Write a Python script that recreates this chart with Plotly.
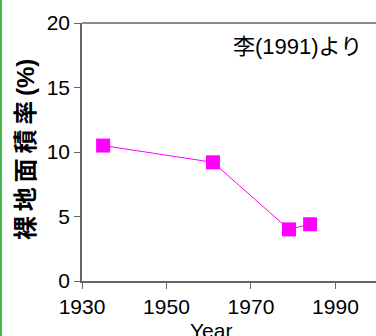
import plotly.graph_objects as go

years = [1935, 1961, 1979, 1984]
bare_rate = [10.5, 9.2, 4.0, 4.4]
x_ticks = [1930, 1950, 1970, 1990]
y_ticks = [0, 5, 10, 15, 20]

W, H = 376, 336
ML, MT, MB, MR = 82, 23, 55, 0
PW, PH = W - ML - MR, H - MT - MB


def px(x):
    return (x - ML) / PW


def py(y):
    return 1 - (y - MT) / PH


fig = go.Figure()
fig.add_trace(go.Scatter(
    x=years, y=bare_rate, mode="lines+markers",
    line=dict(color="#FF00FF", width=1),
    marker=dict(symbol="square", size=14, color="#FF00FF"),
    showlegend=False, cliponaxis=False,
))

axis_font = dict(family="Liberation Sans, Arial, sans-serif", size=21, color="#000000")
fig.update_layout(
    width=W, height=H,
    margin=dict(l=ML, r=MR, t=MT, b=MB),
    paper_bgcolor="white", plot_bgcolor="white",
    xaxis=dict(range=[1930, 1999.6], tickvals=x_ticks, ticks="outside", ticklen=6,
               tickcolor="#666666", showline=True, linecolor="#666666", linewidth=1.5,
               showgrid=False, zeroline=False, tickfont=axis_font, automargin=False),
    yaxis=dict(range=[0, 20], tickvals=y_ticks, ticks="outside", ticklen=6,
               tickcolor="#666666", showline=True, linecolor="#666666", linewidth=1.5,
               showgrid=False, zeroline=False, tickfont=axis_font, automargin=False),
)
# top frame line
fig.add_shape(type="line", xref="paper", yref="paper", x0=0, x1=1, y0=1, y1=1,
              line=dict(color="#666666", width=1.5))
# green left border
fig.add_shape(type="line", xref="paper", yref="paper", x0=px(1), x1=px(1),
              y0=py(H), y1=py(0), line=dict(color="#3cba4a", width=2))
fig.add_annotation(text="李(1991)より", xref="paper", yref="paper",
                   x=px(231), y=py(47), xanchor="left", yanchor="middle", showarrow=False,
                   font=dict(family="Liberation Sans, Noto Sans CJK JP, sans-serif", size=22,
                             color="#000000"))
ylabel = "\u2009".join("裸地面積率") + "\u2009(%)"
fig.add_annotation(text="<b>" + ylabel + "</b>", xref="paper", yref="paper",
                   x=px(25), y=py(150), xanchor="center", yanchor="middle", showarrow=False,
                   textangle=-90,
                   font=dict(family="Liberation Sans, Noto Sans CJK JP, sans-serif", size=24,
                             color="#000000"))
fig.add_annotation(text="Year", xref="paper", yref="paper",
                   x=px(211), y=py(320), xanchor="center", yanchor="top", showarrow=False,
                   font=axis_font, yshift=3)

fig.write_html("out.html", post_script="document.body.style.margin='0';",
               config={"displayModeBar": False})
